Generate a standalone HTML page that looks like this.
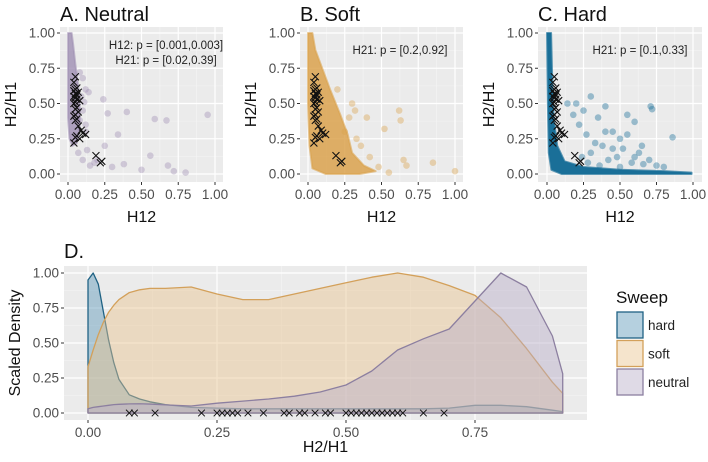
<!DOCTYPE html>
<html><head><meta charset="utf-8">
<style>
html,body{margin:0;padding:0;background:#fff;}
svg{display:block;font-family:"Liberation Sans",Arial,sans-serif;}
</style></head>
<body>
<svg id="chart" width="708" height="462" viewBox="0 0 708 462" xmlns="http://www.w3.org/2000/svg"></svg>
<script>
// ---------- DATA ----------
const obsH12 = [0.05,0.04,0.06,0.05,0.04,0.07,0.05,0.06,0.04,0.05,0.06,0.08,0.05,0.04,0.06,0.05,0.07,0.05,0.04,0.06,0.05,0.07,0.09,0.1,0.12,0.06,0.05,0.08,0.04,0.19,0.22,0.23];
const obsH21 = [0.69,0.65,0.61,0.60,0.59,0.58,0.57,0.56,0.55,0.54,0.53,0.52,0.51,0.50,0.47,0.46,0.44,0.42,0.41,0.39,0.38,0.34,0.31,0.29,0.28,0.27,0.26,0.25,0.22,0.13,0.08,0.09];
const neutralCloudX = [0,0.025,0.035,0.05,0.07,0.08,0.08,0.06,0.03,0.01,0];
const neutralCloudY = [1,1,0.92,0.78,0.62,0.48,0.32,0.22,0.2,0.25,0.4];
const neutralPtsX = [0.08,0.1,0.12,0.09,0.14,0.11,0.24,0.27,0.4,0.59,0.67,0.95,0.34,0.12,0.25,0.56,0.2,0.3,0.38,0.5,0.68,0.72,0.8,0.15,0.07,0.1,0.13,0.18,0.1,0.08,0.12];
const neutralPtsY = [0.72,0.68,0.6,0.55,0.58,0.51,0.53,0.43,0.44,0.39,0.38,0.42,0.28,0.35,0.2,0.13,0.1,0.05,0.07,0.03,0.06,0.02,0.01,0.06,0.15,0.1,0.17,0.08,0.45,0.38,0.3];
const softCloudX = [0,0.03,0.05,0.1,0.15,0.22,0.27,0.3,0.38,0.46,0.35,0.12,0.03,0.01,0];
const softCloudY = [1,1,0.88,0.74,0.6,0.42,0.28,0.15,0.06,0.02,0,0,0.04,0.2,0.5];
const softPtsX = [0.3,0.32,0.4,0.52,0.62,0.63,0.65,0.67,0.85,1.0,0.55,0.48,0.36,0.25,0.2,0.42,0.28,0.33];
const softPtsY = [0.5,0.45,0.4,0.32,0.45,0.38,0.1,0.06,0.08,0.02,0.01,0.05,0.2,0.3,0.6,0.12,0.4,0.25];
const hardCloudX = [0,0.028,0.035,0.045,0.07,0.12,0.25,0.5,0.8,0.99,0.99,0.5,0.1,0.03,0.012,0.006];
const hardCloudY = [1,1,0.7,0.4,0.2,0.09,0.05,0.03,0.02,0.01,0,0,0,0.03,0.15,0.5];
const hardPtsX = [0.2,0.25,0.3,0.35,0.4,0.45,0.5,0.55,0.6,0.65,0.71,0.72,0.86,0.3,0.38,0.42,0.48,0.52,0.58,0.63,0.7,0.75,0.8,0.22,0.27,0.33,0.45,0.55,0.6,0.66,0.28,0.36,0.5,0.18,0.14,0.24,0.4];
const hardPtsY = [0.5,0.45,0.55,0.4,0.48,0.3,0.25,0.42,0.37,0.2,0.48,0.46,0.26,0.15,0.2,0.1,0.12,0.18,0.08,0.15,0.1,0.06,0.05,0.35,0.28,0.22,0.18,0.28,0.12,0.07,0.08,0.06,0.05,0.42,0.5,0.12,0.3];
const densX = [0,0.01,0.02,0.03,0.04,0.05,0.06,0.08,0.1,0.12,0.15,0.2,0.25,0.3,0.35,0.4,0.45,0.5,0.55,0.6,0.65,0.7,0.75,0.8,0.85,0.9,0.92];
const hardDens = [0.95,1.0,0.92,0.72,0.52,0.36,0.24,0.13,0.1,0.08,0.06,0.04,0.035,0.03,0.03,0.03,0.03,0.03,0.03,0.03,0.03,0.035,0.055,0.055,0.045,0.02,0.01];
const softDens = [0.33,0.45,0.56,0.65,0.72,0.77,0.81,0.86,0.88,0.89,0.89,0.9,0.85,0.81,0.81,0.85,0.89,0.93,0.97,1.0,0.97,0.91,0.84,0.68,0.46,0.22,0.14];
const neutralDens = [0.03,0.04,0.045,0.05,0.055,0.06,0.062,0.065,0.066,0.064,0.058,0.05,0.07,0.085,0.1,0.12,0.15,0.2,0.3,0.45,0.53,0.6,0.8,1.0,0.9,0.55,0.28];
const xTicksTop = [0,0.25,0.5,0.75,1];
const yTicks = [0,0.25,0.5,0.75,1];
const dXTicks = [0,0.25,0.5,0.75];

// ---------- HELPERS ----------
const svg = document.getElementById('chart');
const NS = 'http://www.w3.org/2000/svg';
function mk(tag, attrs, parent){
  const e = document.createElementNS(NS, tag);
  for (const k in attrs) e.setAttribute(k, attrs[k]);
  (parent||svg).appendChild(e);
  return e;
}
function txt(s, x, y, size, fill, anchor, parent){
  const t = mk('text', {x:x, y:y, 'font-size':size, fill:fill, 'text-anchor':anchor||'start'}, parent);
  t.textContent = s;
  return t;
}
const fmt = v => v.toFixed(2);

function panel(opt){
  const g = mk('g', {});
  
  
  const sx = v => opt.x0 + v*(opt.x1-opt.x0);
  const sy = v => opt.y0 - v*(opt.y0-opt.y1);
  const bg = mk('rect', {x:opt.bx0, y:opt.by0, width:opt.bx1-opt.bx0, height:opt.by1-opt.by0, fill:'#ebebeb'}, g);
  
  
  for (let i=0;i<xTicksTop.length-1;i++){
    const m = (xTicksTop[i]+xTicksTop[i+1])/2;
    mk('line',{x1:sx(m),x2:sx(m),y1:opt.by0,y2:opt.by1,stroke:'#f5f5f5','stroke-width':0.6},g);
  }
  for (let i=0;i<yTicks.length-1;i++){
    const m = (yTicks[i]+yTicks[i+1])/2;
    mk('line',{x1:opt.bx0,x2:opt.bx1,y1:sy(m),y2:sy(m),stroke:'#f5f5f5','stroke-width':0.6},g);
  }
  xTicksTop.forEach(v=>{
    mk('line',{x1:sx(v),x2:sx(v),y1:opt.by0,y2:opt.by1,stroke:'#fff','stroke-width':1.2},g);
    mk('line',{x1:sx(v),x2:sx(v),y1:opt.by1,y2:opt.by1+3,stroke:'#333','stroke-width':1},g);
    const t = txt(fmt(v), sx(v), opt.by1+17, 13.5, '#4d4d4d','middle',g);
    
    
  });
  yTicks.forEach(v=>{
    mk('line',{x1:opt.bx0,x2:opt.bx1,y1:sy(v),y2:sy(v),stroke:'#fff','stroke-width':1.2},g);
    mk('line',{x1:opt.bx0-3,x2:opt.bx0,y1:sy(v),y2:sy(v),stroke:'#333','stroke-width':1},g);
    const t = txt(fmt(v), opt.bx0-5, sy(v)+4.5, 13.5, '#4d4d4d','end',g);
    
    
  });
  const cpts = opt.cx.map((v,i)=>sx(v)+','+sy(opt.cy[i])).join(' ');
  const cloud = mk('polygon',{points:cpts, fill:opt.color, 'fill-opacity':opt.cloudOp, stroke:opt.color,'stroke-width':2,'stroke-linejoin':'round','stroke-opacity':opt.cloudOp*0.7},g);
  
  
  opt.px.forEach((v,i)=>{
    const c = mk('circle',{cx:sx(v), cy:sy(opt.py[i]), r:3.3, fill:opt.color, 'fill-opacity':0.4},g);
    
    
  });
  obsH12.forEach((v,i)=>{
    const X = sx(v), Y = sy(obsH21[i]), d=3.5;
    const p = mk('path',{d:`M${X-d},${Y-d}L${X+d},${Y+d}M${X-d},${Y+d}L${X+d},${Y-d}`, stroke:'#111','stroke-width':1.1, fill:'none'},g);
    
    
  });
  opt.ann.forEach((s,i)=>{
    const t = txt(s, opt.annX, opt.annY+i*15, 11.5, '#222','middle',g);
    
    
  });
  const title = txt(opt.title, opt.bx0, 21, 20, '#111','start',g);
  
  
  const xl = txt('H12', (opt.bx0+opt.bx1)/2, 222, 16, '#111','middle',g);
  
  
  const yl = txt('H2/H1', 0, 0, 16, '#111','middle',g);
  yl.setAttribute('transform',`translate(${opt.bx0-44},${(opt.by0+opt.by1)/2}) rotate(-90)`);
  
  
}

panel({name:'panel-a-neutral', title:'A. Neutral', bx0:60,bx1:223,by0:27,by1:182, x0:68,x1:215,y0:174,y1:33,
  color:'#9f8fb3', cloudOp:0.8, cx:neutralCloudX, cy:neutralCloudY, px:neutralPtsX, py:neutralPtsY,
  ann:['H12: p = [0.001,0.003]','H21: p = [0.02,0.39]'], annX:166, annY:49});
panel({name:'panel-b-soft', title:'B. Soft', bx0:300,bx1:463,by0:27,by1:182, x0:308,x1:455,y0:174,y1:33,
  color:'#daa24e', cloudOp:0.85, cx:softCloudX, cy:softCloudY, px:softPtsX, py:softPtsY,
  ann:['H21: p = [0.2,0.92]'], annX:400, annY:54});
panel({name:'panel-c-hard', title:'C. Hard', bx0:538,bx1:702,by0:27,by1:182, x0:547,x1:693,y0:174,y1:33,
  color:'#1a6f98', cloudOp:1, cx:hardCloudX, cy:hardCloudY, px:hardPtsX, py:hardPtsY,
  ann:['H21: p = [0.1,0.33]'], annX:640, annY:54});

// ---------- PANEL D ----------
(function(){
  const g = mk('g',{});
  
  
  const bx0=64,bx1=587,by0=266,by1=420;
  const sx = v => 88 + v*516;
  const sy = v => 413 - v*140;
  const bg = mk('rect',{x:bx0,y:by0,width:bx1-bx0,height:by1-by0,fill:'#ebebeb'},g);
  
  
  [0.125,0.375,0.625,0.875].forEach(v=>mk('line',{x1:sx(v),x2:sx(v),y1:by0,y2:by1,stroke:'#f5f5f5','stroke-width':0.6},g));
  [0.125,0.375,0.625,0.875].forEach(v=>mk('line',{x1:bx0,x2:bx1,y1:sy(v),y2:sy(v),stroke:'#f5f5f5','stroke-width':0.6},g));
  dXTicks.forEach(v=>{
    mk('line',{x1:sx(v),x2:sx(v),y1:by0,y2:by1,stroke:'#fff','stroke-width':1.2},g);
    mk('line',{x1:sx(v),x2:sx(v),y1:by1,y2:by1+3,stroke:'#333'},g);
    const t = txt(fmt(v), sx(v), by1+17, 13.5, '#4d4d4d','middle',g);
    
    
  });
  yTicks.forEach(v=>{
    mk('line',{x1:bx0,x2:bx1,y1:sy(v),y2:sy(v),stroke:'#fff','stroke-width':1.2},g);
    mk('line',{x1:bx0-3,x2:bx0,y1:sy(v),y2:sy(v),stroke:'#333'},g);
    const t = txt(fmt(v), bx0-5, sy(v)+4.5, 13.5, '#4d4d4d','end',g);
    
    
  });
  const series = [
    {name:'hard-density', vals:hardDens, fill:'#5b97b8', stroke:'#1f6284'},
    {name:'soft-density', vals:softDens, fill:'#e8c48e', stroke:'#d3a05a'},
    {name:'neutral-density', vals:neutralDens, fill:'#b9aec8', stroke:'#8c7fa0'}
  ];
  series.forEach(s=>{
    let d = `M${sx(densX[0])},${sy(0)}`;
    densX.forEach((x,i)=>{ d += `L${sx(x)},${sy(s.vals[i])}`; });
    d += `L${sx(densX[densX.length-1])},${sy(0)}Z`;
    const p = mk('path',{d:d, fill:s.fill, 'fill-opacity':0.45, stroke:s.stroke,'stroke-width':1.3,'stroke-linejoin':'round'},g);
    
    
  });
  obsH21.forEach(v=>{
    const X = sx(v), Y = sy(0), d=3.3;
    const p = mk('path',{d:`M${X-d},${Y-d}L${X+d},${Y+d}M${X-d},${Y+d}L${X+d},${Y-d}`, stroke:'#111','stroke-width':1, fill:'none'},g);
    
    
  });
  const t = txt('D.', 64, 258, 20, '#111','start',g);
  
  
  const xl = txt('H2/H1', (bx0+bx1)/2, 452, 16, '#111','middle',g);
  
  
  const yl = txt('Scaled Density', 0, 0, 16, '#111','middle',g);
  yl.setAttribute('transform',`translate(20,${(by0+by1)/2}) rotate(-90)`);
  
  
  const lg = mk('g',{},g);
  
  
  const lt = txt('Sweep', 616, 303, 17, '#111','start',lg);
  
  
  const labels = ['hard','soft','neutral'];
  series.forEach((s,i)=>{
    const y = 312 + i*28.5;
    const r = mk('rect',{x:617,y:y,width:26,height:26,fill:s.fill,'fill-opacity':0.45,stroke:s.stroke,'stroke-width':1.3},lg);
    
    
    const l = txt(labels[i], 648, y+18, 13.5, '#222','start',lg);
    
    
  });
})();
</script>
</body></html>
